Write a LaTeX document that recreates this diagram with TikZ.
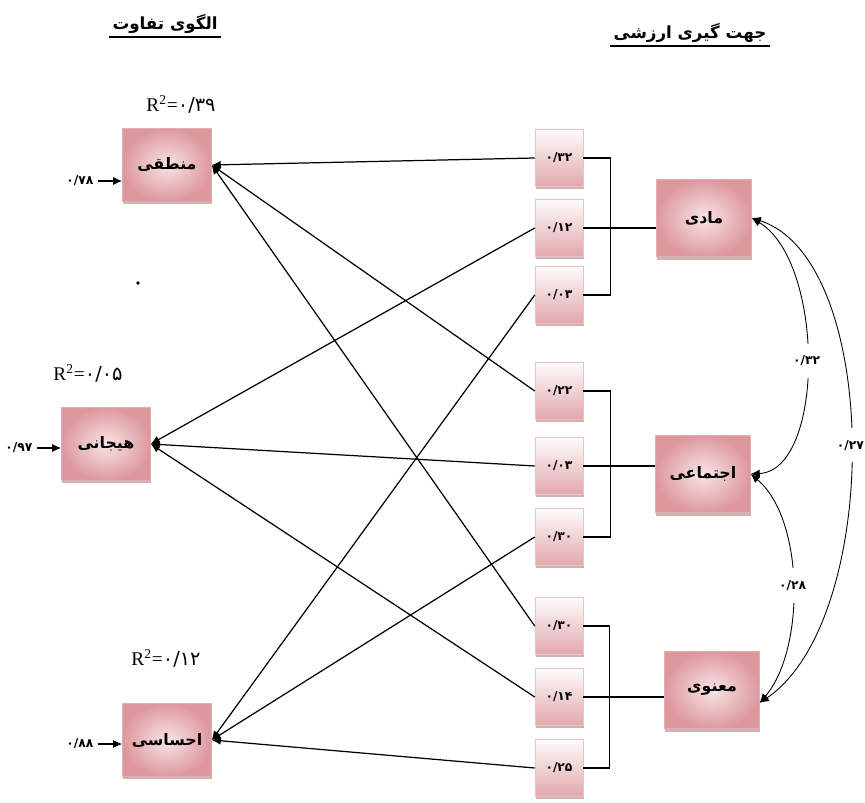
\documentclass[tikz,border=0pt]{standalone}
\usepackage{fontspec}
\setmainfont{Liberation Serif}
\newfontfamily\farsi[Script=Arabic]{DejaVu Sans}
\TeXXeTstate=1
\usetikzlibrary{arrows.meta,shadows}
\definecolor{rosedark}{RGB}{221,152,158}
\definecolor{roselight}{RGB}{249,228,230}

\begin{document}
\begin{tikzpicture}[x=0.02cm, y=-0.02cm, line width=0.7pt,
        >={Latex[length=1.8mm,width=1.6mm]},
        box/.style={shade, inner color=roselight, outer color=rosedark,
            draw=rosedark!80!white, line width=0.3pt,
            font=\farsi\bfseries\fontsize{9}{11}\selectfont,
            drop shadow={shadow xshift=0.5pt, shadow yshift=-1.6pt,
                fill=rosedark!75!black, opacity=0.55}},
        leftbox/.style={box, minimum width=1.78cm, minimum height=1.46cm},
        rightbox/.style={box, minimum width=1.9cm, minimum height=1.55cm},
        coef/.style={top color=white!96!rosedark, bottom color=rosedark!85!white,
            draw=rosedark!60!white, line width=0.3pt,
            minimum width=0.96cm, minimum height=1.14cm,
            font=\farsi\bfseries\fontsize{7}{9}\selectfont,
            drop shadow={shadow xshift=0.4pt, shadow yshift=-1.4pt,
                fill=rosedark!75!black, opacity=0.55}},
        title/.style={font=\farsi\bfseries\fontsize{9.5}{12}\selectfont, inner sep=1.5pt},
        rsq/.style={font=\fontsize{11}{13}\selectfont},
        err/.style={font=\farsi\bfseries\fontsize{7}{9}\selectfont, inner sep=2pt},
        lbl/.style={fill=white, inner xsep=1pt, inner ysep=7pt,
            font=\farsi\bfseries\fontsize{7}{9}\selectfont}]
    \useasboundingbox (0,0) rectangle (865,803);

    \draw
        (165,24) node (title1) [title] {\beginR الگوی تفاوت\endR}
        (690,33) node (title2) [title] {\beginR جهت گیری ارزشی\endR}

        (167,165) node (mantegh) [leftbox] {\beginR منطقی\endR}
        (106,444) node (hayajani) [leftbox] {\beginR هیجانی\endR}
        (167,740) node (ehsasi) [leftbox] {\beginR احساسی\endR}

        (704,218) node (madi) [rightbox] {\beginR مادی\endR}
        (703,474) node (ejtemai) [rightbox] {\beginR اجتماعی\endR}
        (712,690) node (maanavi) [rightbox] {\beginR معنوی\endR}

        (559,158) node (c1) [coef] {۰/۳۲}
        (559,228) node (c2) [coef] {۰/۱۲}
        (559,295) node (c3) [coef] {۰/۰۳}
        (559,391) node (c4) [coef] {۰/۲۲}
        (559,466) node (c5) [coef] {۰/۰۳}
        (559,537) node (c6) [coef] {۰/۳۰}
        (559,626) node (c7) [coef] {۰/۳۰}
        (559,697) node (c8) [coef] {۰/۱۴}
        (559,768) node (c9) [coef] {۰/۲۵}

        (181,104) node (r1) [rsq] {R\textsuperscript{2}={\farsi ۰/۳۹}}
        (88,373) node (r2) [rsq] {R\textsuperscript{2}={\farsi ۰/۰۵}}
        (166,658) node (r3) [rsq] {R\textsuperscript{2}={\farsi ۰/۱۲}}

        (80,181) node (e1) [err] {۰/۷۸}
        (19,448) node (e2) [err] {۰/۹۷}
        (80,744) node (e3) [err] {۰/۸۸}
    ;

    \path[->]
        (c1.west) edge (mantegh.east)
        (c2.west) edge (hayajani.east)
        (c3.west) edge (ehsasi.east)
        (c4.west) edge (mantegh.east)
        (c5.west) edge (hayajani.east)
        (c6.west) edge (ehsasi.east)
        (c7.west) edge (mantegh.east)
        (c8.west) edge (hayajani.east)
        (c9.west) edge (ehsasi.east)
        (e1) edge (e1 -| mantegh.west)
        (e2) edge (e2 -| hayajani.west)
        (e3) edge (e3 -| ehsasi.west)
    ;

    \draw (c1.east) -- ++(27,0) |- (c3.east);
    \draw (c2.east) -- (c2.east -| madi.west);
    \draw (c4.east) -- ++(27,0) |- (c6.east);
    \draw (c5.east) -- (c5.east -| ejtemai.west);
    \draw (c7.east) -- ++(26,0) |- (c9.east);
    \draw (c8.east) -- (c8.east -| maanavi.west);

    \draw[<->, line width=0.5pt] (madi.east) .. controls (825,262) and (825,470) .. node[lbl] {۰/۳۲} (ejtemai.east);
    \draw[<->, line width=0.5pt] (ejtemai.east) .. controls (805,520) and (805,650) .. node[lbl] {۰/۲۸} (maanavi.-15);
    \draw[<->, line width=0.5pt] (madi.east) .. controls (882,260) and (882,620) .. node[lbl] {۰/۲۷} (maanavi.-15);

    \draw[line width=1pt] (title1.south west) -- (title1.south east);
    \draw[line width=1pt] (title2.south west) -- (title2.south east);
    \fill (138,283) circle (1.1pt);
\end{tikzpicture}
\end{document}
